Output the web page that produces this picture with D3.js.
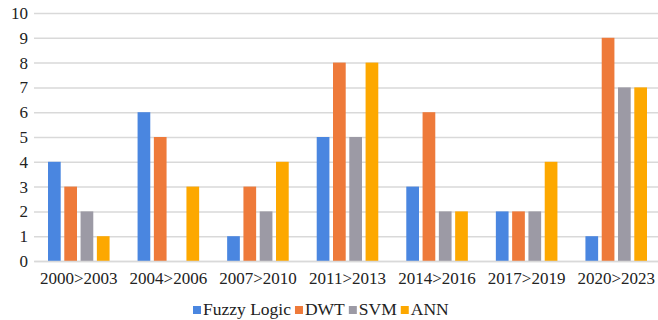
<!DOCTYPE html>
<html>
<head>
    <script src="https://cdn.jsdelivr.net/npm/d3@7"></script>
</head>
<body style="margin: 0; background: #fff;">
    <svg width="658" height="320" id="mainsvg"></svg>
    <script>
        const periods = ['2000>2003', '2004>2006', '2007>2010', '2011>2013', '2014>2016', '2017>2019', '2020>2023'];
        const seriesNames = ['Fuzzy Logic', 'DWT', 'SVM', 'ANN'];
        const fuzzyLogic = [4, 6, 1, 5, 3, 2, 1];
        const dwt = [3, 5, 3, 8, 6, 2, 9];
        const svmVals = [2, 0, 2, 5, 2, 2, 7];
        const ann = [1, 3, 4, 8, 2, 4, 7];
        const colors = ['#4a86e0', '#ee7a3a', '#9c9aa5', '#fda800'];

        const table = periods.map((p, i) => ({
            period: p,
            'Fuzzy Logic': fuzzyLogic[i], 'DWT': dwt[i], 'SVM': svmVals[i], 'ANN': ann[i]
        }));

        const svg = d3.select('#mainsvg');
        const margin = { top: 13, right: 0, bottom: 59, left: 34 };
        const innerWidth = 627;
        const innerHeight = 320 - margin.top - margin.bottom;
        const g = svg.append('g').attr('transform', `translate(${margin.left}, ${margin.top})`);
        const font = 'Liberation Serif';

        const yScale = d3.scaleLinear().domain([0, 10]).range([innerHeight, 0]);
        const xScale = d3.scaleBand().domain(periods).range([0, innerWidth]);
        const inner = d3.scaleBand().domain(seriesNames).range([14, xScale.bandwidth() - 14]).paddingInner(0.22);
        const color = d3.scaleOrdinal().domain(seriesNames).range(colors);

        // grid lines + y labels
        const yAxis = d3.axisLeft(yScale).ticks(10).tickSize(-innerWidth).tickPadding(6);
        const ya = g.append('g').call(yAxis).attr('font-family', font).attr('font-size', 17);
        ya.select('.domain').remove();
        ya.selectAll('.tick line').attr('stroke', '#d9d9d9').attr('stroke-width', 1.5);
        ya.selectAll('.tick text').attr('font-family', font).attr('font-size', 17).attr('fill', '#222');

        g.selectAll('.grp').data(table).join('g')
            .attr('class', 'grp')
            .attr('transform', d => `translate(${xScale(d.period)}, 0)`)
            .selectAll('rect').data(d => seriesNames.map(k => ({ key: k, value: d[k] }))).join('rect')
            .attr('x', d => inner(d.key))
            .attr('y', d => yScale(d.value))
            .attr('width', inner.bandwidth())
            .attr('height', d => innerHeight - yScale(d.value))
            .attr('fill', d => color(d.key));

        const xAxis = d3.axisBottom(xScale).tickSize(0).tickPadding(11);
        const xa = g.append('g').attr('transform', `translate(0, ${innerHeight})`).call(xAxis)
            .attr('font-family', font).attr('font-size', 17);
        xa.select('.domain').attr('stroke', '#d9d9d9').attr('stroke-width', 1.5);
        xa.selectAll('.tick text').attr('font-family', font).attr('font-size', 17).attr('fill', '#222');

        // legend
        const legend = svg.append('g').attr('transform', 'translate(193, 315)');
        let lx = 0;
        seriesNames.forEach(name => {
            const item = legend.append('g').attr('transform', `translate(${lx}, 0)`);
            item.append('rect').attr('x', 0).attr('y', -9).attr('width', 8).attr('height', 8).attr('fill', color(name));
            const t = item.append('text').attr('x', 10).attr('y', 0)
                .attr('font-family', font).attr('font-size', 17.5).attr('fill', '#222').text(name);
            lx += 10 + t.node().getComputedTextLength() + 4;
        });
    </script>
</body>
</html>
